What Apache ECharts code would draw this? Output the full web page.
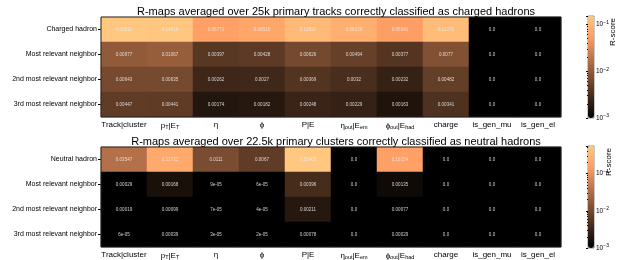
<!DOCTYPE html>
<html><head><meta charset="utf-8">
<script src="https://cdn.jsdelivr.net/npm/echarts@6/dist/echarts.min.js"></script>
<style>html,body{margin:0;padding:0;background:#fff}#c{width:640px;height:260px}</style>
</head><body><div id="c"></div>
<script>
const xLabels = ['Track|cluster','p{sub|T}|E{sub|T}','η','ϕ','P|E','η{sub|out}|E{sub|em}','ϕ{sub|out}|E{sub|had}','charge','is_gen_mu','is_gen_el'];
const yLabelsTop = ['Charged hadron','Most relevant neighbor','2nd most relevant neighbor','3rd most relevant neighbor'];
const yLabelsBot = ['Neutral hadron','Most relevant neighbor','2nd most relevant neighbor','3rd most relevant neighbor'];
const topRow0 = [0.15011, 0.14818, 0.05771, 0.06515, 0.10837, 0.08239, 0.05341, 0.11376, 0.0, 0.0];
const topRow1 = [0.00977, 0.01067, 0.00397, 0.00428, 0.00626, 0.00494, 0.00377, 0.0077, 0.0, 0.0];
const topRow2 = [0.00643, 0.00635, 0.00262, 0.0027, 0.00369, 0.0032, 0.00232, 0.00482, 0.0, 0.0];
const topRow3 = [0.00447, 0.00441, 0.00174, 0.00182, 0.00248, 0.00229, 0.00163, 0.00341, 0.0, 0.0];
const botRow0 = [0.03547, 0.21732, 0.0111, 0.0067, 0.55403, 0.0, 0.16154, 0.0, 0.0, 0.0];
const botRow1 = [0.00029, 0.00168, 9e-05, 6e-05, 0.00396, 0.0, 0.00135, 0.0, 0.0, 0.0];
const botRow2 = [0.00019, 0.00099, 7e-05, 4e-05, 0.00211, 0.0, 0.00077, 0.0, 0.0, 0.0];
const botRow3 = [6e-05, 0.00039, 3e-05, 2e-05, 0.00078, 0.0, 0.00029, 0.0, 0.0, 0.0];
const vMin = 1e-3;
const titleTop = 'R-maps averaged over 25k primary tracks correctly classified as charged hadrons';
const titleBot = 'R-maps averaged over 22.5k primary clusters correctly classified as neutral hadrons';

const FONT = "'Liberation Sans', Arial, sans-serif";
const copper = ['#000000','#402819','#805033','#BF774C','#FF9F65','#FFC77F'];

function build(rows){
  const out = [];
  rows.forEach((r, yi) => r.forEach((v, xi) => {
    out.push([xi, yi, v, Math.log10(Math.max(v, vMin))]);
  }));
  return out;
}
function fmt(v){
  if (v === 0) return '0.0';
  if (v < 1e-4) { const s = v.toExponential(); return s.replace(/e-(\d)$/, 'e-0$1'); }
  return String(v);
}
const topData = build([topRow0, topRow1, topRow2, topRow3]);
const botData = build([botRow0, botRow1, botRow2, botRow3]);
const topMax = Math.max(...topRow0, ...topRow1, ...topRow2, ...topRow3);
const botMax = Math.max(...botRow0, ...botRow1, ...botRow2, ...botRow3);

const richX = { sub: { fontSize: 5.5, verticalAlign: 'bottom', fontFamily: FONT, color: '#000', padding: [3,0,0,0] } };
const richC = { sup: { fontSize: 5, verticalAlign: 'top', fontFamily: FONT, color: '#000', padding: [0,0,4,0] } };

function xAx(gi){
  return { type: 'category', gridIndex: gi, data: xLabels,
    axisLine: { show: false }, axisTick: { show: false }, splitLine: { show: false },
    axisLabel: { fontSize: 8, fontFamily: FONT, color: '#000', margin: 4, interval: 0, rich: richX } };
}
function yAx(gi, labels){
  return { type: 'category', gridIndex: gi, data: labels, inverse: true,
    axisLine: { show: false }, splitLine: { show: false },
    axisTick: { show: true, length: 3, alignWithLabel: true, lineStyle: { color: '#000' } },
    axisLabel: { fontSize: 7, fontFamily: FONT, color: '#000', margin: 4 } };
}
function cbX(gi){ return { type: 'value', gridIndex: gi, show: false, min: 0, max: 1 }; }
function cbY(gi, max){
  return { type: 'log', gridIndex: gi, min: vMin, max: max, logBase: 10, position: 'right',
    axisLine: { show: false }, splitLine: { show: false },
    axisTick: { show: true, inside: true, length: 2, lineStyle: { color: '#000' } },
    minorTick: { show: true, splitNumber: 9, length: 1, lineStyle: { color: '#000' } },
    axisLabel: { fontSize: 6.5, fontFamily: FONT, color: '#000', margin: 2, rich: richC, showMaxLabel: false,
      formatter: v => { const e = Math.round(Math.log10(v)); return '10{sup|−' + Math.abs(e) + '}'; } } };
}
function hm(xi, yi, data){
  return { type: 'heatmap', xAxisIndex: xi, yAxisIndex: yi, data: data, encode: { x: 0, y: 1 },
    label: { show: true, fontSize: 4.5, fontFamily: FONT, color: 'rgba(235,235,235,0.85)',
      formatter: p => fmt(p.value[2]) },
    itemStyle: { borderWidth: 0 }, emphasis: { disabled: true } };
}

const chart = echarts.init(document.getElementById('c'), null, { renderer: 'canvas' });
chart.setOption({
  backgroundColor: '#fff',
  animation: false,
  title: [
    { text: titleTop, left: 331, top: 1, textAlign: 'center', textStyle: { fontSize: 11, fontWeight: 'normal', fontFamily: FONT, color: '#000' } },
    { text: titleBot, left: 331, top: 131, textAlign: 'center', textStyle: { fontSize: 11, fontWeight: 'normal', fontFamily: FONT, color: '#000' } }
  ],
  grid: [
    { left: 101, top: 17, width: 460, height: 100, show: true, borderColor: '#222', borderWidth: 1, backgroundColor: 'transparent', z: 5 },
    { left: 101, top: 147, width: 460, height: 100, show: true, borderColor: '#222', borderWidth: 1, backgroundColor: 'transparent', z: 5 },
    { left: 588, top: 16, width: 6, height: 102, show: true, borderColor: '#222', borderWidth: 0.5, backgroundColor: 'transparent' },
    { left: 588, top: 146, width: 6, height: 102, show: true, borderColor: '#222', borderWidth: 0.5, backgroundColor: 'transparent' }
  ],
  xAxis: [xAx(0), xAx(1), cbX(2), cbX(3)],
  yAxis: [yAx(0, yLabelsTop), yAx(1, yLabelsBot), cbY(2, topMax), cbY(3, botMax)],
  visualMap: [
    { type: 'continuous', show: true, seriesIndex: 0, dimension: 3, min: Math.log10(vMin), max: Math.log10(topMax),
      inRange: { color: copper }, left: 588, top: 16, itemWidth: 6, itemHeight: 102, padding: 0, calculable: false, realtime: false, hoverLink: false, text: null },
    { type: 'continuous', show: true, seriesIndex: 1, dimension: 3, min: Math.log10(vMin), max: Math.log10(botMax),
      inRange: { color: copper }, left: 588, top: 146, itemWidth: 6, itemHeight: 102, padding: 0, calculable: false, realtime: false, hoverLink: false, text: null }
  ],
  series: [hm(0, 0, topData), hm(1, 1, botData)],
  graphic: [
    { type: 'text', x: 613, y: 32, rotation: Math.PI / 2, style: { text: 'R-score', fontSize: 8, fontFamily: FONT, fill: '#000', align: 'center', verticalAlign: 'middle' } },
    { type: 'text', x: 609, y: 162, rotation: Math.PI / 2, style: { text: 'R-score', fontSize: 8, fontFamily: FONT, fill: '#000', align: 'center', verticalAlign: 'middle' } }
  ]
});
</script></body></html>
